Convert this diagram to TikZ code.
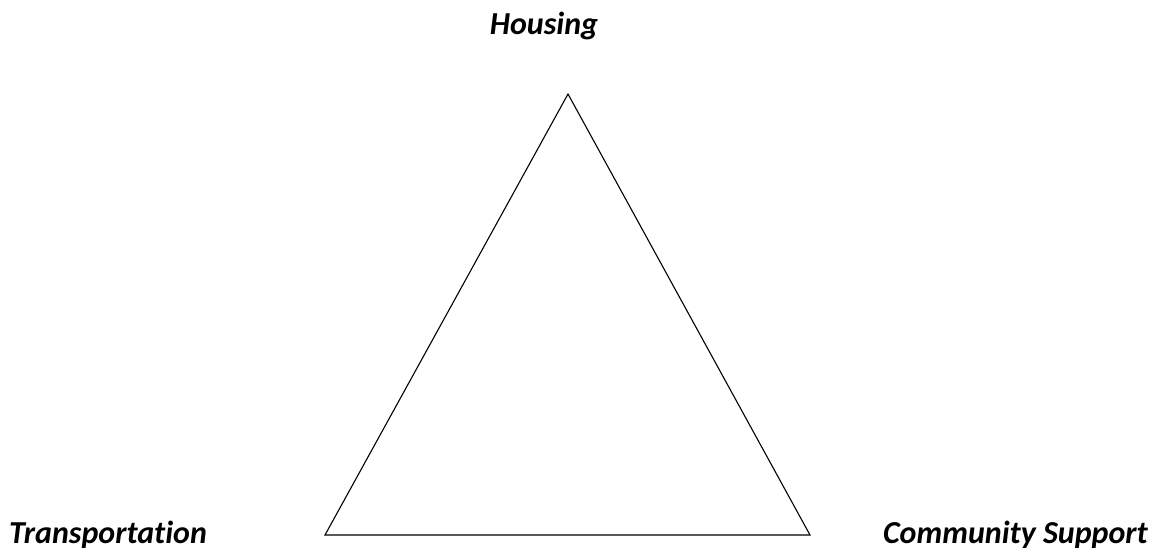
\documentclass[tikz,border=0pt]{standalone}
\usepackage{fontspec}
\setmainfont[Ligatures=NoCommon]{Carlito}
\begin{document}
\begin{tikzpicture}[x=1pt,y=-1pt,
  lbl/.style={font=\fontsize{32}{38}\selectfont\bfseries\itshape, inner sep=0pt, anchor=base},
  edge/.style={draw=black, line width=1.1pt, line join=miter}]
\useasboundingbox (0,0) rectangle (1151,552);
\coordinate (top) at (568,94);
\coordinate (bl) at (325,535);
\coordinate (br) at (810,535);
\draw[edge] (top) -- (bl) -- (br) -- cycle;
\node[lbl] (housing) at (544,34) {Housing};
\node[lbl, anchor=base west] (transp) at (9,543) {Transportation};
\node[lbl, anchor=base east] (comm) at (1148,543) {Community Support};
\end{tikzpicture}
\end{document}
